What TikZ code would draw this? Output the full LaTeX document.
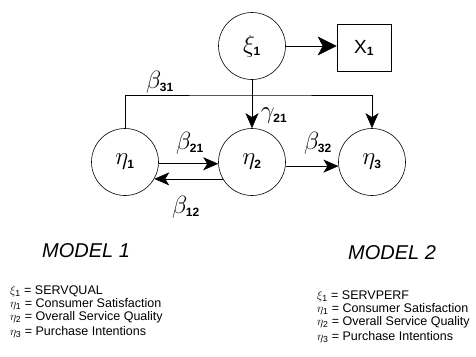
\documentclass[tikz,border=0pt]{standalone}
\usepackage{amsmath}
\usepackage{amssymb}
\usepackage{fontspec}
\setmainfont{Liberation Sans}
\usetikzlibrary{arrows.meta}

% sans subscript of fixed size
\newcommand{\idx}[1]{_{\text{\fontsize{12}{12}\selectfont\bfseries #1}}}

\begin{document}
\begin{tikzpicture}[x=1pt, y=-1pt,
    latent/.style={draw, circle, line width=0.6pt, minimum size=67pt, inner sep=0pt, font=\fontsize{23}{23}\selectfont},
    manifest/.style={draw, rectangle, line width=0.6pt, minimum width=54pt, minimum height=47pt, font=\fontsize{19}{19}\selectfont},
    link/.style={-{Stealth[length=15pt, width=13pt, inset=4pt]}, line width=0.6pt},
    coef/.style={font=\fontsize{23}{23}\selectfont},
    modeltitle/.style={font=\fontsize{20}{20}\selectfont\itshape},
    defn/.style={anchor=west, inner sep=0pt, font=\fontsize{12.5}{13}\selectfont}]
    \useasboundingbox (0,0) rectangle (476,356);

    % Latent variables and indicator
    \node[latent] (xi) at (252, 46) {$\xi\idx{1}$};
    \node[manifest] (x1) at (364, 48) {X$\idx{1}$};
    \node[latent] (eta1) at (125, 162) {$\eta\idx{1}$};
    \node[latent] (eta2) at (252, 162) {$\eta\idx{2}$};
    \node[latent] (eta3) at (372, 162) {$\eta\idx{3}$};
    \coordinate (top) at (252, 95);

    % Arrows
    \draw[link, -{Stealth[length=19pt, width=19pt, inset=5pt]}] (xi.east) -- (xi.east -| x1.west);
    \draw[link] (xi) -- (eta2);
    \draw[link] (eta1.north) |- (top) -| (eta3.north);
    \draw[link] (eta1.-3) -- (eta2.183);
    \draw[link] (eta2.210) -- (eta1.-30);
    \draw[link] (eta2.-7) -- (eta3.187);

    % Labels
    \node[coef] (b31) at (160, 82) {$\beta\idx{31}$};
    \node[coef] (g21) at (274, 116) {$\gamma\idx{21}$};
    \node[coef] (b21) at (190, 143) {$\beta\idx{21}$};
    \node[coef] (b12) at (186, 207) {$\beta\idx{12}$};
    \node[coef] (b32) at (318, 143) {$\beta\idx{32}$};

    % Model 1 key
    \node[modeltitle] (m1) at (86, 251) {MODEL 1};
    \node[defn] (m1a) at (10, 291) {$\xi_{\text{1}}$ = SERVQUAL};
    \node[defn] (m1b) at (10, 304) {$\eta_{\text{1}}$ = Consumer Satisfaction};
    \node[defn] (m1c) at (10, 317) {$\eta_{\text{2}}$ = Overall Service Quality};
    \node[defn] (m1d) at (10, 332) {$\eta_{\text{3}}$ = Purchase Intentions};

    % Model 2 key
    \node[modeltitle] (m2) at (392, 253) {MODEL 2};
    \node[defn] (m2a) at (317, 296) {$\xi_{\text{1}}$ = SERVPERF};
    \node[defn] (m2b) at (317, 309) {$\eta_{\text{1}}$ = Consumer Satisfaction};
    \node[defn] (m2c) at (317, 322) {$\eta_{\text{2}}$ = Overall Service Quality};
    \node[defn] (m2d) at (317, 337) {$\eta_{\text{3}}$ = Purchase Intentions};
\end{tikzpicture}
\end{document}
